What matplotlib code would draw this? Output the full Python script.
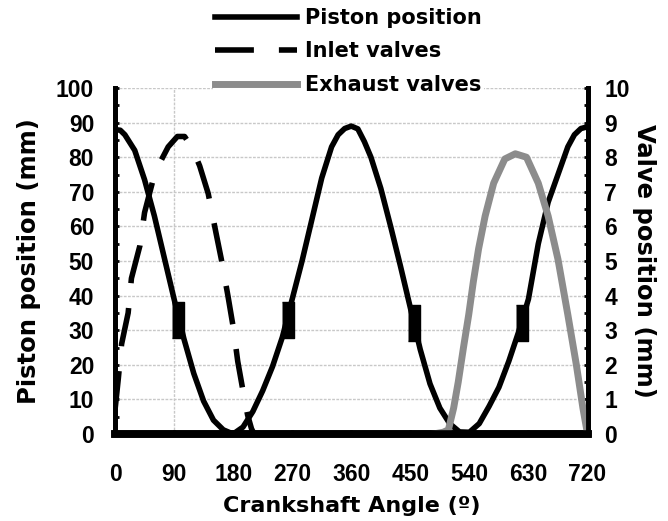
import numpy as np
import matplotlib.pyplot as plt
from matplotlib.ticker import MultipleLocator

plt.rcParams['font.family'] = ['Liberation Sans', 'DejaVu Sans']
plt.rcParams['font.weight'] = 'bold'

# piston position (mm)
piston_angle = [0, 8, 15, 30, 45, 60, 75, 90, 105, 120, 135, 150, 165, 180, 195, 210,
                225, 240, 255, 270, 285, 300, 315, 330, 340, 350, 360, 370, 380, 390,
                405, 420, 435, 450, 465, 480, 495, 510, 525, 540, 555, 570, 585, 600,
                615, 630, 645, 660, 675, 690, 700, 710, 720]
piston_pos = [88, 87.8, 86.5, 82, 73.5, 63, 51, 39, 27.5, 17.5, 9.5, 4, 1.2, 0, 2, 6.5,
              12.5, 19.5, 28, 39, 50, 62, 74, 83, 86.5, 88.3, 89, 88.2, 84.5, 80,
              71, 60, 48.5, 36.5, 24.5, 14.5, 7.5, 3, 0.6, 0.5, 3, 8, 13.5, 21,
              29.5, 39, 55, 67, 75, 83, 86.5, 88.3, 88.8]

# thick blocks drawn on the piston curve
block_angle = [96, 264, 455, 620]
block_pos = [33, 33, 32, 32]

# inlet valve lift (mm)
inlet_angle = [0, 5, 10, 20, 25, 38, 45, 58, 70, 81, 95, 106, 118, 129, 142, 154,
               162, 172, 180, 187, 195, 202, 208, 212]
inlet_lift = [0.7, 1.6, 2.6, 3.5, 4.5, 5.45, 6.4, 7.35, 7.9, 8.3, 8.6, 8.6, 8.25, 7.75,
              6.95, 5.8, 5.05, 4.0, 3.1, 2.1, 1.25, 0.55, 0.15, 0]

# exhaust valve lift (mm)
exhaust_angle = [485, 500, 508, 516, 523, 531, 539, 546, 554, 564, 577, 594, 610, 627,
                 645, 660, 675, 690, 703, 713, 720]
exhaust_lift = [0, 0.05, 0.12, 0.75, 1.5, 2.5, 3.45, 4.4, 5.35, 6.3, 7.25, 7.95, 8.1,
                8.0, 7.25, 6.3, 5.05, 3.45, 2.0, 0.75, 0]

x_ticks = [0, 90, 180, 270, 360, 450, 540, 630, 720]

label_font = ['DejaVu Sans']

fig = plt.figure(figsize=(6.68, 5.21), dpi=100)
ax = fig.add_axes([0.1722, 0.167, 0.7073, 0.664])
ax2 = ax.twinx()

# grid: dotted horizontals, one vertical at 90
for yv in range(10, 101, 10):
    ax.axhline(yv, color='#c8c8c8', lw=1, ls=(0, (2, 1)), zorder=0)
ax.axvline(90, color='#c8c8c8', lw=1, ls=(0, (2, 1)), zorder=0)

p_line, = ax.plot(piston_angle, piston_pos, color='black', lw=4, solid_joinstyle='round',
                  label='Piston position', zorder=3)
block = [(-0.3, -1), (0.3, -1), (0.3, 1), (-0.3, 1)]
ax.plot(block_angle, block_pos, ls='none', marker=block, markersize=26.6,
        color='black', zorder=4)

i_line, = ax2.plot(inlet_angle, inlet_lift, color='black', lw=4, ls=(0, (7, 4.5)),
                   dash_capstyle='butt', label='Inlet valves')
e_line, = ax2.plot(exhaust_angle, exhaust_lift, color='#8c8c8c', lw=5,
                   label='Exhaust valves')

ax.set_xlim(0, 720)
ax.set_ylim(0, 100)
ax2.set_ylim(0, 10)
ax.set_xticks(x_ticks)
ax.yaxis.set_major_locator(MultipleLocator(10))
ax.yaxis.set_minor_locator(MultipleLocator(5))
ax2.yaxis.set_major_locator(MultipleLocator(1))
ax2.yaxis.set_minor_locator(MultipleLocator(0.5))

for a in (ax, ax2):
    for s in a.spines.values():
        s.set_linewidth(3.5)
    a.spines['bottom'].set_linewidth(5.5)
    a.spines['top'].set_visible(False)

ax.tick_params(axis='y', which='both', direction='in', length=3, width=2,
               labelsize=16.5, pad=15)
ax.tick_params(axis='x', direction='in', length=3, width=2, labelsize=16.5, pad=21)
ax2.tick_params(axis='y', which='both', direction='in', length=3, width=2,
                labelsize=16.5, pad=12)

ax.set_xlabel('Crankshaft Angle (º)', fontsize=16, fontweight='bold', labelpad=7,
              family=label_font)
ax.set_ylabel('Piston position (mm)', fontsize=17.5, fontweight='bold', labelpad=11,
              family=label_font)
ax2.set_ylabel('Valve position (mm)', fontsize=17.5, fontweight='bold',
               rotation=270, labelpad=19, family=label_font)

leg = fig.legend([p_line, i_line, e_line],
                 ['Piston position', 'Inlet valves', 'Exhaust valves'],
                 loc='upper left', bbox_to_anchor=(0.319, 0.989), frameon=True,
                 prop={'family': label_font, 'size': 15, 'weight': 'bold'},
                 handlelength=3.93, handletextpad=0.39,
                 labelspacing=0.65, borderpad=0.1, borderaxespad=0)
leg.get_frame().set_edgecolor('none')
leg.get_frame().set_facecolor('white')
leg.get_frame().set_alpha(1)

fig.savefig('out.png', dpi=100)
